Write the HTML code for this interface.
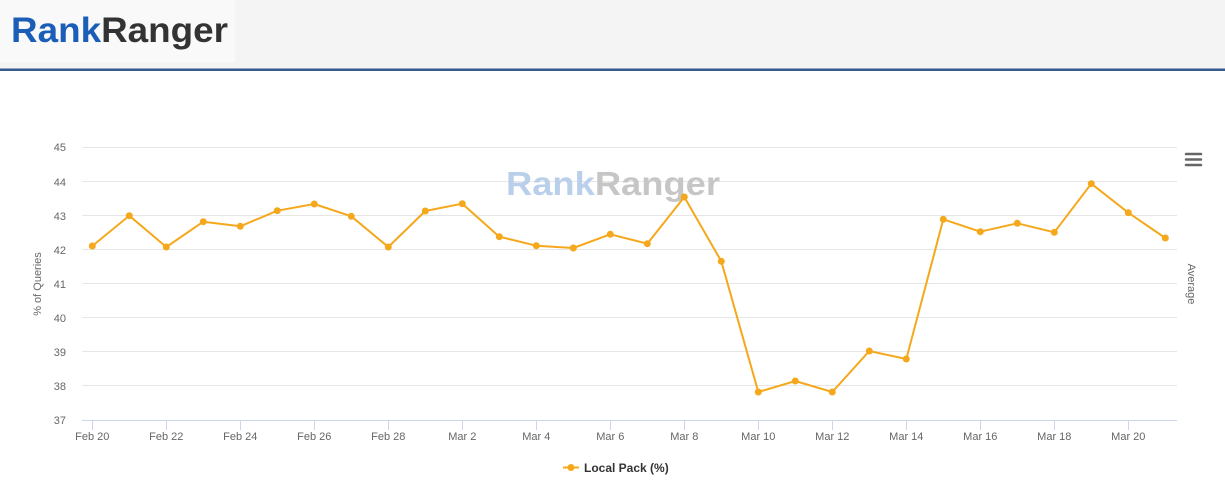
<!DOCTYPE html>
<html><head><meta charset="utf-8"><style>
html,body{margin:0;padding:0;background:#fff;}
body{width:1225px;height:495px;overflow:hidden;position:relative;font-family:"Liberation Sans",sans-serif;}
</style></head><body>
<svg width="1225" height="495" viewBox="0 0 1225 495" xmlns="http://www.w3.org/2000/svg" style="position:absolute;left:0;top:0">
<rect x="0" y="0" width="1225" height="69" fill="#f4f4f4"/>
<rect x="0" y="0" width="235" height="62" fill="#f9f9f9"/>
<rect x="0" y="68.5" width="1225" height="2.5" fill="#33598f"/>
<text x="11" y="42" font-family="Liberation Sans, sans-serif" font-weight="bold" font-size="35" textLength="217" lengthAdjust="spacingAndGlyphs"><tspan fill="#1b5eb8">Rank</tspan><tspan fill="#333333">Ranger</tspan></text>

<!-- gridlines -->
<g stroke="#e6e6e6" stroke-width="1">
<line x1="82" x2="1177" y1="147.5" y2="147.5"/>
<line x1="82" x2="1177" y1="181.5" y2="181.5"/>
<line x1="82" x2="1177" y1="215.5" y2="215.5"/>
<line x1="82" x2="1177" y1="249.5" y2="249.5"/>
<line x1="82" x2="1177" y1="283.5" y2="283.5"/>
<line x1="82" x2="1177" y1="317.5" y2="317.5"/>
<line x1="82" x2="1177" y1="351.5" y2="351.5"/>
<line x1="82" x2="1177" y1="385.5" y2="385.5"/>
</g>
<!-- watermark -->
<text x="506" y="195" font-family="Liberation Sans, sans-serif" font-weight="bold" font-size="33" textLength="214" lengthAdjust="spacingAndGlyphs"><tspan fill="#b9cfea">Rank</tspan><tspan fill="#c6c6c6">Ranger</tspan></text>

<!-- x axis -->
<line x1="82" x2="1177" y1="420.5" y2="420.5" stroke="#ccd6eb" stroke-width="1"/>
<g stroke="#ccd6eb" stroke-width="1">
<line x1="92.5" x2="92.5" y1="420" y2="430"/>
<line x1="166.5" x2="166.5" y1="420" y2="430"/>
<line x1="240.5" x2="240.5" y1="420" y2="430"/>
<line x1="314.5" x2="314.5" y1="420" y2="430"/>
<line x1="388.5" x2="388.5" y1="420" y2="430"/>
<line x1="462.5" x2="462.5" y1="420" y2="430"/>
<line x1="536.5" x2="536.5" y1="420" y2="430"/>
<line x1="610.5" x2="610.5" y1="420" y2="430"/>
<line x1="684.5" x2="684.5" y1="420" y2="430"/>
<line x1="758.5" x2="758.5" y1="420" y2="430"/>
<line x1="832.5" x2="832.5" y1="420" y2="430"/>
<line x1="906.5" x2="906.5" y1="420" y2="430"/>
<line x1="980.5" x2="980.5" y1="420" y2="430"/>
<line x1="1054.5" x2="1054.5" y1="420" y2="430"/>
<line x1="1128.5" x2="1128.5" y1="420" y2="430"/>
</g>
<g font-family="Liberation Sans, sans-serif" font-size="11" fill="#666666" text-anchor="middle">
<text x="92.3" y="440">Feb 20</text>
<text x="166.3" y="440">Feb 22</text>
<text x="240.3" y="440">Feb 24</text>
<text x="314.3" y="440">Feb 26</text>
<text x="388.3" y="440">Feb 28</text>
<text x="462.3" y="440">Mar 2</text>
<text x="536.3" y="440">Mar 4</text>
<text x="610.3" y="440">Mar 6</text>
<text x="684.3" y="440">Mar 8</text>
<text x="758.3" y="440">Mar 10</text>
<text x="832.3" y="440">Mar 12</text>
<text x="906.3" y="440">Mar 14</text>
<text x="980.3" y="440">Mar 16</text>
<text x="1054.3" y="440">Mar 18</text>
<text x="1128.3" y="440">Mar 20</text>
</g>
<!-- y labels -->
<g font-family="Liberation Sans, sans-serif" font-size="11" fill="#666666" text-anchor="end">
<text x="66" y="151">45</text>
<text x="66" y="186">44</text>
<text x="66" y="220">43</text>
<text x="66" y="254">42</text>
<text x="66" y="288">41</text>
<text x="66" y="322">40</text>
<text x="66" y="356">39</text>
<text x="66" y="390">38</text>
<text x="66" y="424">37</text>
</g>
<text transform="translate(41,284) rotate(-90)" font-family="Liberation Sans, sans-serif" font-size="11" fill="#666666" text-anchor="middle">% of Queries</text>
<text transform="translate(1188,284) rotate(90)" font-family="Liberation Sans, sans-serif" font-size="11" fill="#666666" text-anchor="middle">Average</text>

<!-- menu icon -->
<g stroke="#666666" stroke-width="2.5" stroke-linecap="round">
<line x1="1186" x2="1201" y1="154" y2="154"/>
<line x1="1186" x2="1201" y1="159.5" y2="159.5"/>
<line x1="1186" x2="1201" y1="165" y2="165"/>
</g>

<!-- series -->
<polyline fill="none" stroke="#f5a81c" stroke-width="2" stroke-linejoin="round" points="92.3,246 129.3,215.7 166.3,247 203.3,221.7 240.3,226.3 277.3,210.7 314.3,204 351.3,216.3 388.3,247 425.3,211 462.3,203.7 499.3,236.7 536.3,245.7 573.3,248 610.3,234.3 647.3,243.7 684.3,197 721.3,261.3 758.3,392 795.3,381 832.3,392 869.3,351 906.3,359 943.3,219.3 980.3,231.7 1017.3,223.3 1054.3,232.3 1091.3,183.7 1128.3,212.7 1165.3,238"/>
<g fill="#f5a81c">
<circle cx="92.3" cy="246" r="3.5"/><circle cx="129.3" cy="215.7" r="3.5"/><circle cx="166.3" cy="247" r="3.5"/><circle cx="203.3" cy="221.7" r="3.5"/><circle cx="240.3" cy="226.3" r="3.5"/><circle cx="277.3" cy="210.7" r="3.5"/><circle cx="314.3" cy="204" r="3.5"/><circle cx="351.3" cy="216.3" r="3.5"/><circle cx="388.3" cy="247" r="3.5"/><circle cx="425.3" cy="211" r="3.5"/><circle cx="462.3" cy="203.7" r="3.5"/><circle cx="499.3" cy="236.7" r="3.5"/><circle cx="536.3" cy="245.7" r="3.5"/><circle cx="573.3" cy="248" r="3.5"/><circle cx="610.3" cy="234.3" r="3.5"/><circle cx="647.3" cy="243.7" r="3.5"/><circle cx="684.3" cy="197" r="3.5"/><circle cx="721.3" cy="261.3" r="3.5"/><circle cx="758.3" cy="392" r="3.5"/><circle cx="795.3" cy="381" r="3.5"/><circle cx="832.3" cy="392" r="3.5"/><circle cx="869.3" cy="351" r="3.5"/><circle cx="906.3" cy="359" r="3.5"/><circle cx="943.3" cy="219.3" r="3.5"/><circle cx="980.3" cy="231.7" r="3.5"/><circle cx="1017.3" cy="223.3" r="3.5"/><circle cx="1054.3" cy="232.3" r="3.5"/><circle cx="1091.3" cy="183.7" r="3.5"/><circle cx="1128.3" cy="212.7" r="3.5"/><circle cx="1165.3" cy="238" r="3.5"/>
</g>

<!-- legend -->
<line x1="563" x2="579" y1="467.5" y2="467.5" stroke="#f5a81c" stroke-width="2"/>
<circle cx="571" cy="467.5" r="3.5" fill="#f5a81c"/>
<text x="584" y="472" font-family="Liberation Sans, sans-serif" font-size="12" font-weight="bold" fill="#333333">Local Pack (%)</text>
</svg>
</body></html>
